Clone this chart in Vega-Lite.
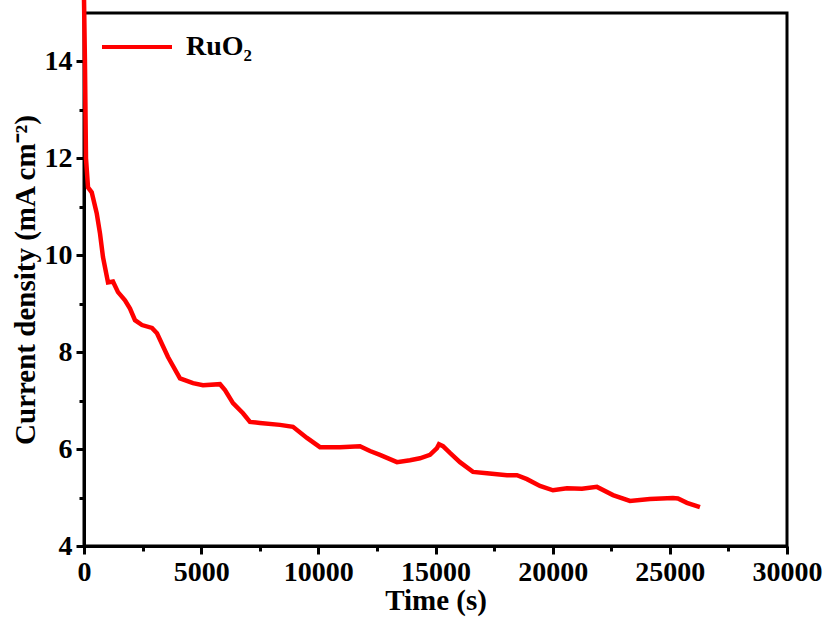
{
  "$schema": "https://vega.github.io/schema/vega-lite/v6.json",
  "width": 703,
  "height": 533,
  "autosize": {"type": "none"},
  "padding": {"left": 84, "top": 13, "right": 40, "bottom": 80},
  "background": "white",
  "config": {
    "view": {"stroke": "black", "strokeWidth": 3},
    "font": "Liberation Serif"
  },
  "data": {
    "values": [
      {"t": 0, "j": 15.3, "s": "RuO₂"},
      {"t": 40, "j": 14.0, "s": "RuO₂"},
      {"t": 85, "j": 12.0, "s": "RuO₂"},
      {"t": 171, "j": 11.4, "s": "RuO₂"},
      {"t": 329, "j": 11.3, "s": "RuO₂"},
      {"t": 542, "j": 10.87, "s": "RuO₂"},
      {"t": 683, "j": 10.45, "s": "RuO₂"},
      {"t": 811, "j": 9.96, "s": "RuO₂"},
      {"t": 1024, "j": 9.44, "s": "RuO₂"},
      {"t": 1237, "j": 9.46, "s": "RuO₂"},
      {"t": 1451, "j": 9.24, "s": "RuO₂"},
      {"t": 1749, "j": 9.07, "s": "RuO₂"},
      {"t": 1963, "j": 8.9, "s": "RuO₂"},
      {"t": 2176, "j": 8.66, "s": "RuO₂"},
      {"t": 2475, "j": 8.56, "s": "RuO₂"},
      {"t": 2901, "j": 8.5, "s": "RuO₂"},
      {"t": 3115, "j": 8.39, "s": "RuO₂"},
      {"t": 3584, "j": 7.9, "s": "RuO₂"},
      {"t": 4096, "j": 7.46, "s": "RuO₂"},
      {"t": 4651, "j": 7.36, "s": "RuO₂"},
      {"t": 5078, "j": 7.32, "s": "RuO₂"},
      {"t": 5803, "j": 7.34, "s": "RuO₂"},
      {"t": 6017, "j": 7.22, "s": "RuO₂"},
      {"t": 6358, "j": 6.95, "s": "RuO₂"},
      {"t": 6785, "j": 6.74, "s": "RuO₂"},
      {"t": 7083, "j": 6.56, "s": "RuO₂"},
      {"t": 7510, "j": 6.54, "s": "RuO₂"},
      {"t": 8363, "j": 6.5, "s": "RuO₂"},
      {"t": 8918, "j": 6.46, "s": "RuO₂"},
      {"t": 9515, "j": 6.23, "s": "RuO₂"},
      {"t": 10070, "j": 6.04, "s": "RuO₂"},
      {"t": 10923, "j": 6.04, "s": "RuO₂"},
      {"t": 11777, "j": 6.06, "s": "RuO₂"},
      {"t": 12204, "j": 5.96, "s": "RuO₂"},
      {"t": 12630, "j": 5.88, "s": "RuO₂"},
      {"t": 13356, "j": 5.73, "s": "RuO₂"},
      {"t": 13911, "j": 5.77, "s": "RuO₂"},
      {"t": 14337, "j": 5.81, "s": "RuO₂"},
      {"t": 14764, "j": 5.88, "s": "RuO₂"},
      {"t": 15063, "j": 6.02, "s": "RuO₂"},
      {"t": 15148, "j": 6.1, "s": "RuO₂"},
      {"t": 15319, "j": 6.06, "s": "RuO₂"},
      {"t": 15617, "j": 5.92, "s": "RuO₂"},
      {"t": 16044, "j": 5.73, "s": "RuO₂"},
      {"t": 16599, "j": 5.53, "s": "RuO₂"},
      {"t": 17196, "j": 5.5, "s": "RuO₂"},
      {"t": 18050, "j": 5.46, "s": "RuO₂"},
      {"t": 18476, "j": 5.46, "s": "RuO₂"},
      {"t": 18903, "j": 5.38, "s": "RuO₂"},
      {"t": 19458, "j": 5.24, "s": "RuO₂"},
      {"t": 20013, "j": 5.15, "s": "RuO₂"},
      {"t": 20610, "j": 5.19, "s": "RuO₂"},
      {"t": 21250, "j": 5.18, "s": "RuO₂"},
      {"t": 21890, "j": 5.22, "s": "RuO₂"},
      {"t": 22573, "j": 5.05, "s": "RuO₂"},
      {"t": 23298, "j": 4.93, "s": "RuO₂"},
      {"t": 24151, "j": 4.97, "s": "RuO₂"},
      {"t": 25133, "j": 4.99, "s": "RuO₂"},
      {"t": 25346, "j": 4.98, "s": "RuO₂"},
      {"t": 25730, "j": 4.89, "s": "RuO₂"},
      {"t": 26285, "j": 4.8, "s": "RuO₂"}
    ]
  },
  "mark": {"type": "line", "strokeWidth": 4.5, "clip": false},
  "encoding": {
    "x": {
      "field": "t",
      "type": "quantitative",
      "scale": {"domain": [0, 30000], "nice": false},
      "axis": {
        "title": "Time (s)",
        "values": [0, 2500, 5000, 7500, 10000, 12500, 15000, 17500, 20000, 22500, 25000, 27500, 30000],
        "labelExpr": "datum.value % 5000 === 0 ? datum.value : ''",
        "format": "d",
        "grid": false,
        "domainColor": "black",
        "domainWidth": 3,
        "tickColor": "black",
        "tickWidth": 3,
        "tickSize": {"expr": "datum.value % 5000 === 0 ? 8 : 5"},
        "labelFont": "Liberation Serif",
        "labelFontWeight": "bold",
        "labelFontSize": 28,
        "labelColor": "black",
        "labelPadding": 4,
        "labelFlush": false,
        "labelOverlap": false,
        "titleFont": "Liberation Serif",
        "titleFontWeight": "bold",
        "titleFontSize": 29,
        "titleColor": "black",
        "titlePadding": 0
      }
    },
    "y": {
      "field": "j",
      "type": "quantitative",
      "scale": {"domain": [4, 15], "nice": false, "zero": false},
      "axis": {
        "title": "Current density (mA cm⁻²)",
        "values": [4, 5, 6, 7, 8, 9, 10, 11, 12, 13, 14],
        "labelExpr": "datum.value % 2 === 0 ? datum.value : ''",
        "grid": false,
        "domainColor": "black",
        "domainWidth": 3,
        "tickColor": "black",
        "tickWidth": 3,
        "tickSize": {"expr": "datum.value % 2 === 0 ? 8 : 5"},
        "labelFont": "Liberation Serif",
        "labelFontWeight": "bold",
        "labelFontSize": 28,
        "labelColor": "black",
        "labelPadding": 4,
        "labelFlush": false,
        "labelOverlap": false,
        "titleFont": "Liberation Serif",
        "titleFontWeight": "bold",
        "titleFontSize": 29,
        "titleColor": "black",
        "titlePadding": 4
      }
    },
    "color": {
      "field": "s",
      "type": "nominal",
      "scale": {"range": ["#ff0000"]},
      "legend": {
        "title": null,
        "orient": "none",
        "legendX": 16,
        "legendY": -3,
        "padding": 0,
        "symbolType": "stroke",
        "symbolSize": 4900,
        "symbolStrokeWidth": 4,
        "labelFont": "Liberation Serif",
        "labelFontWeight": "bold",
        "labelFontSize": 28,
        "labelColor": "black",
        "labelOffset": 12
      }
    }
  }
}
